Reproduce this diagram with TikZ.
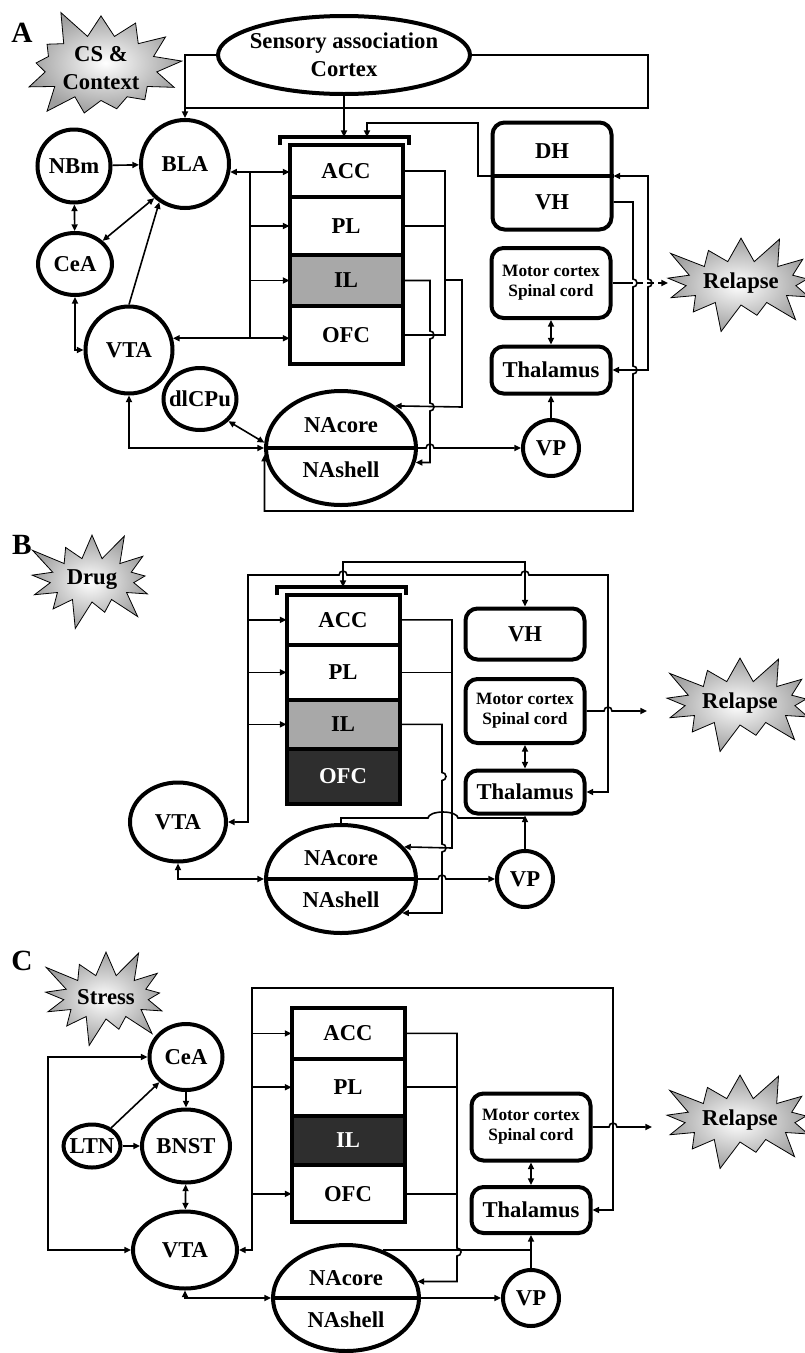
\documentclass[tikz,border=0pt]{standalone}
\usepackage{fontspec}
\setmainfont{Liberation Serif}
\usetikzlibrary{positioning,calc,arrows.meta,shapes.geometric,shapes.symbols}
\newdimen\px
\px=0.75pt
\newcommand{\bigfont}{\fontsize{17}{21}\selectfont\bfseries}
\newcommand{\smallfont}{\fontsize{13}{15}\selectfont\bfseries}
\newcommand{\panelfont}{\fontsize{22}{24}\selectfont\bfseries}
\definecolor{ILgray}{HTML}{A8A8A8}
\definecolor{Dark}{HTML}{2E2E2E}
\tikzset{
  region/.style={circle, draw, line width=3pt, inner sep=0pt, font=\bigfont},
  oval/.style={ellipse, draw, line width=3pt, inner sep=0pt, font=\bigfont, align=center},
  pfc/.style={rectangle, draw, line width=3pt, outer sep=0pt, minimum width=113*\px, font=\bigfont},
  pfcgray/.style={pfc, fill=ILgray},
  pfcdark/.style={pfc, fill=Dark, text=white},
  rbox/.style={rectangle, rounded corners=9pt, draw, line width=3pt, minimum width=119*\px, align=center, font=\bigfont},
  burst/.style={starburst, starburst points=13, starburst point height=24pt, draw, line width=0.6pt,
    inner color=white, outer color=gray!75, align=center, font=\bigfont, inner sep=1pt,
    minimum width=111pt, minimum height=81pt},
  wire/.style={line width=1.2pt},
  hd/.style={insert path={arc[start angle=90,end angle=-90,radius=4]}},
  hr/.style={insert path={arc[start angle=180,end angle=0,radius=4]}},
  hw/.style={insert path={arc[start angle=180,end angle=0,x radius=15,y radius=6]}},
  >={Triangle[length=5pt,width=4.5pt]},
}
\NewDocumentCommand{\DrawPFC}{O{0} O{0} O{pfc} O{pfc} O{1}}{
  \node[pfc, anchor=north, minimum height=#5*52*\px] (ACC) at (#1,#2) {ACC};
  \node[pfc, minimum height=#5*58*\px, below=0pt of ACC] (PL) {PL};
  \node[#3, minimum height=#5*51*\px, below=0pt of PL] (IL) {IL};
  \node[#4, minimum height=#5*58*\px, below=0pt of IL] (OFC) {OFC};
}
\begin{document}
\begin{tikzpicture}[x=0.75pt, y=0.75pt]
\useasboundingbox (0,0) rectangle (805,-1353);

% ---------- A ----------
\begin{scope}[name prefix=A-]
  \node[burst, random starburst=5] (cue) at (101,-68) {CS \&\\Context};
  \node[font=\panelfont] (tag) at (22,-33) {A};
  \node[oval, minimum width=252*\px, minimum height=78*\px] (SAC) at (344,-55) {};
  \node[font=\bigfont, align=center] (SACtxt) at (SAC) {Sensory association\\Cortex};
  \node[region, minimum size=73*\px] (NBm) at (74,-166) {NBm};
  \node[region, minimum size=88*\px] (BLA) at (185,-164) {BLA};
  \node[oval, minimum width=74*\px, minimum height=62*\px] (CeA) at (75,-264) {CeA};
  \node[region, minimum size=87*\px] (VTA) at (129,-350) {VTA};
  \node[oval, minimum width=73*\px, minimum height=62*\px, label={[font=\bigfont]center:dlCPu}] (dlCPu) at (200,-399) {};
  \DrawPFC[346][-145][pfcgray][pfc][1]
  \coordinate (brk) at ($(ACC.north)+(0,8)$);
  \draw[line width=3pt] ($(ACC.north west)+(-10,0)$) -- ++(0,8) -| ($(ACC.north east)+(6,0)$);
  \node[rbox, minimum height=107*\px] (HPC) at (552,-176) {};
  \draw[line width=3pt] (HPC.west) -- (HPC.east);
  \node[font=\bigfont] (DH) at (552,-151) {DH};
  \node[font=\bigfont] (VH) at (552,-202) {VH};
  \node[rbox, font=\smallfont, minimum height=70*\px] (Mot) at (551,-283) {Motor cortex\\Spinal cord};
  \node[rbox, minimum height=47*\px] (Thal) at (551,-370) {Thalamus};
  \node[region, minimum size=56*\px] (VP) at (551,-448) {VP};
  \node[oval, minimum width=150*\px, minimum height=114*\px] (NA) at (341,-448) {};
  \draw[line width=3pt] (NA.west) -- (NA.east);
  \node[font=\bigfont] (core) at (341,-425) {NAcore};
  \node[font=\bigfont] (shell) at (341,-470) {NAshell};
  \node[burst] (Rel) at (741,-283) {Relapse};

  \draw[wire,->] (NBm) -- (BLA);
  \draw[wire,<->] (NBm) -- (CeA);
  \draw[wire,<->] (BLA.228) -- (CeA.40);
  \draw[wire,->] (VTA.north) -- (BLA.236);
  \draw[wire,<->] (CeA.south) |- (VTA.west);
  \draw[wire,<->] (VTA.south) |- (NA.west);
  \draw[wire,<->] (dlCPu.-38) -- (NA.176);
  \draw[wire,->] (SAC.west) -| (BLA.north);
  \draw[wire] (SAC.east) -| (648,-108) -- (BLA.north |- 0,-108);
  \draw[wire,->] (SAC.south) -- (SAC.south |- brk);
  \draw[wire,->] (HPC.west) -| (478,-123) -| (367,-137);
  % PFC inputs
  \coordinate (lbus) at (250,-176);
  \draw[wire,<->] (BLA.-10) -- (BLA.-10 -| ACC.west);
  \draw[wire,<->] (VTA.15) -- (VTA.15 -| OFC.west);
  \draw[wire] (lbus |- BLA.-10) -- (lbus |- VTA.15);
  \draw[wire,->] (lbus |- PL) -- (PL.west);
  \draw[wire,->] (lbus |- IL) -- (IL.west);
  % PFC outputs
  \draw[wire] (ACC.east) -| (445,0 |- OFC.east) -- (OFC.east);
  \draw[wire] (PL.east) -- (PL.east -| 445,0);
  \draw[wire,->] (445,-280) -| (462,-407) -- (NA.38);
  \draw[wire,->] (IL.east) -| (430,-331) [hd] -- (430,-403) [hd] |- (NA.-11);
  \draw[wire,->] (NA.east) -- (426,-448) [hr] -- (VP.west);
  % right side
  \draw[wire,->] (VP) -- (Thal);
  \draw[wire,<->] (Mot) -- (Thal);
  \draw[wire,->] (VH -| HPC.east) -- (633,-202) -- (633,-279) [hd] -- (633,-366) [hd] -- (633,-511) -| (NA.185);
  \draw[wire,<->] (HPC.east) -- (648,-176) -- (648,-279) [hd] |- (Thal.east);
  \draw[wire] (Mot.east) -- (626,-283);
  \draw[wire,dash pattern=on 5pt off 3pt,->] (626,-283) -- (668,-283);
\end{scope}

% ---------- B ----------
\begin{scope}[name prefix=B-]
  \node[burst] (cue) at (92,-580) {Drug};
  \node[font=\panelfont] (tag) at (22,-545) {B};
  \DrawPFC[343][-595][pfcgray][pfcdark][0.955]
  \coordinate (brk) at ($(ACC.north)+(0,8)$);
  \draw[line width=3pt] ($(ACC.north west)+(-10,0)$) -- ++(0,8) -| ($(ACC.north east)+(6,0)$);
  \node[oval, minimum width=96*\px, minimum height=79*\px] (VTA) at (178,-822) {VTA};
  \node[oval, minimum width=150*\px, minimum height=108*\px] (NA) at (341,-879) {};
  \draw[line width=3pt] (NA.west) -- (NA.east);
  \node[font=\bigfont] (core) at (341,-858) {NAcore};
  \node[font=\bigfont] (shell) at (341,-900) {NAshell};
  \node[rbox, minimum height=51*\px] (VH) at (525,-634) {VH};
  \node[rbox, font=\smallfont, minimum height=64*\px] (Mot) at (525,-711) {Motor cortex\\Spinal cord};
  \node[rbox, minimum height=43*\px] (Thal) at (525,-792) {Thalamus};
  \node[region, minimum size=56*\px] (VP) at (525,-879) {VP};
  \node[burst] (Rel) at (740,-703) {Relapse};

  \draw[wire,<->] (VTA.south) |- (NA.west);
  \draw[wire,<->] (brk) -- (brk |- 0,-562) -| (VH.north);
  \draw[wire,<->] (VTA.east) -| (248,-575) -- (339,-575) [hr] -- (521,-575) [hr] -| (608,0 |- Thal.east) -- (Thal.east);
  \draw[wire,->] (248,0 |- ACC) -- (ACC.west);
  \draw[wire,->] (248,0 |- PL) -- (PL.west);
  \draw[wire,->] (248,0 |- IL) -- (IL.west);
  \draw[wire,->] (ACC.east) -| (452,-848) -- (NA.27);
  \draw[wire] (PL.east) -- (PL.east -| 452,0);
  \draw[wire,->] (IL.east) -| (442,-772.5) [hd] -- (442,-844) [hd] |- (NA.-29);
  \draw[wire] (NA.north) |- (428,-818) [hw] -- (VP |- 0,-818);
  \draw[wire,->] (NA.east) -- (438,-879) [hr] -- (VP.west);
  \draw[wire,->] (VP) -- (Thal);
  \draw[wire,<->] (Mot) -- (Thal);
  \draw[wire,->] (Mot.east) -- (604,-711) [hr] -- (647,-711);
\end{scope}

% ---------- C ----------
\begin{scope}[name prefix=C-]
  \node[burst] (cue) at (106,-997) {Stress};
  \node[font=\panelfont] (tag) at (22,-961) {C};
  \node[oval, minimum width=73*\px, minimum height=66*\px] (CeA) at (186,-1057) {CeA};
  \node[oval, minimum width=88*\px, minimum height=73*\px] (BNST) at (186,-1146) {BNST};
  \node[oval, minimum width=57*\px, minimum height=43*\px, label={[font=\bigfont]center:LTN}] (LTN) at (92,-1146) {};
  \node[oval, minimum width=104*\px, minimum height=77*\px] (VTA) at (185,-1250) {VTA};
  \node[oval, minimum width=146*\px, minimum height=106*\px] (NA) at (346,-1298) {};
  \draw[line width=3pt] (NA.west) -- (NA.east);
  \node[font=\bigfont] (core) at (346,-1278) {NAcore};
  \node[font=\bigfont] (shell) at (346,-1320) {NAshell};
  \DrawPFC[348][-1008][pfcdark][pfc][0.978]
  \node[rbox, font=\smallfont, minimum height=67*\px] (Mot) at (531,-1127) {Motor cortex\\Spinal cord};
  \node[rbox, minimum height=46*\px] (Thal) at (531,-1210) {Thalamus};
  \node[region, minimum size=56*\px] (VP) at (531,-1298) {VP};
  \node[burst] (Rel) at (740,-1120) {Relapse};

  \draw[wire,->] (LTN) -- (CeA);
  \draw[wire,->] (LTN) -- (BNST);
  \draw[wire,->] (CeA) -- (BNST);
  \draw[wire,<->] (BNST) -- (VTA);
  \draw[wire,<->] (CeA.west) -| (48,-1150) |- (VTA.west);
  \draw[wire,<->] (VTA.south) |- (NA.west);
  \draw[wire,<->] (VTA.east) -| (252,-988) -| (613,0 |- Thal.east) -- (Thal.east);
  \draw[wire,->] (252,0 |- ACC) -- (ACC.west);
  \draw[wire,->] (252,0 |- PL) -- (PL.west);
  \draw[wire,->] (252,0 |- OFC) -- (OFC.west);
  \draw[wire] (PL.east) -- (PL.east -| 457,0);
  \draw[wire] (OFC.east) -- (OFC.east -| 457,0);
  \draw[wire,->] (ACC.east) -| (457,-1248) [hd] |- (NA.13);
  \draw[wire] (NA.52) -- (NA.52 -| VP);
  \draw[wire,->] (NA.east) -- (VP.west);
  \draw[wire,->] (VP) -- (Thal);
  \draw[wire,<->] (Mot) -- (Thal);
  \draw[wire,->] (Mot.east) -- (609,-1127) [hr] -- (652,-1127);
\end{scope}
\end{tikzpicture}
\end{document}
